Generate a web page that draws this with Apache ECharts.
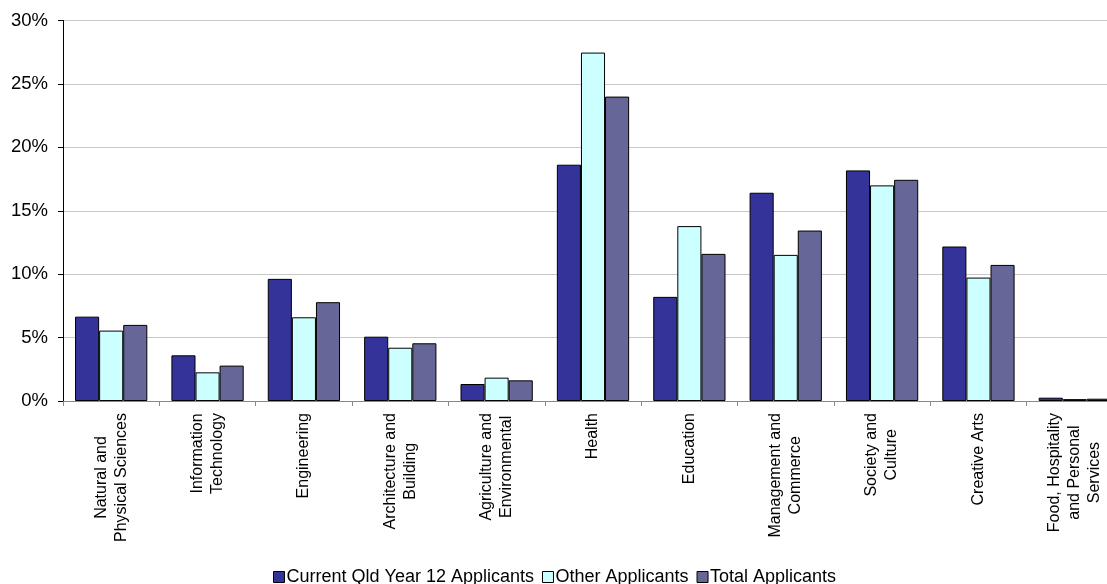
<!DOCTYPE html>
<html>
<head>
<meta charset="utf-8">
<script src="https://cdn.jsdelivr.net/npm/echarts@6/dist/echarts.min.js"></script>
<style>
  html, body { margin: 0; padding: 0; background: #fff; overflow: hidden; }
  #chart { width: 1123px; height: 584px; }
</style>
</head>
<body>
<div id="chart"></div>
<script>
// Fields of education (multi-line labels use \n)
const categories = [
  'Natural and\nPhysical Sciences',
  'Information\nTechnology',
  'Engineering',
  'Architecture and\nBuilding',
  'Agriculture and\nEnvironmental',
  'Health',
  'Education',
  'Management and\nCommerce',
  'Society and\nCulture',
  'Creative Arts',
  'Food, Hospitality\nand Personal\nServices'
];

// Share of applicants (%) by field
const currentQldYear12 = [6.65, 3.6, 9.63, 5.07, 1.34, 18.63, 8.21, 16.42, 18.18, 12.18, 0.26];
const otherApplicants  = [5.55, 2.26, 6.6, 4.2, 1.84, 27.47, 13.79, 11.52, 17.0, 9.73, 0.15];
const totalApplicants  = [6.0, 2.79, 7.79, 4.55, 1.63, 24.0, 11.6, 13.44, 17.44, 10.73, 0.18];

const seriesNames = ['Current Qld Year 12 Applicants', 'Other Applicants', 'Total Applicants'];
const yTicks = [0, 5, 10, 15, 20, 25, 30];

const FONT = '"Liberation Sans", Arial, sans-serif';
const chart = echarts.init(document.getElementById('chart'), null, { renderer: 'canvas' });

function barSeries(name, data, color) {
  return {
    name: name,
    type: 'bar',
    data: data,
    barGap: '0%',
    barCategoryGap: '25%',
    itemStyle: { color: color, borderColor: '#000', borderWidth: 1 },
    emphasis: { disabled: true },
    animation: false
  };
}

chart.setOption({
  animation: false,
  textStyle: { fontFamily: FONT, color: '#000' },
  grid: { left: 63, right: 0, top: 20.5, bottom: 183, containLabel: false },
  legend: {
    left: 268,
    top: 563,
    itemWidth: 11,
    itemHeight: 11,
    itemGap: 8,
    icon: 'rect',
    selectedMode: false,
    itemStyle: { borderColor: '#000', borderWidth: 1 },
    textStyle: { fontFamily: FONT, fontSize: 18, color: '#000', padding: [0, 0, 0, -3] },
    data: seriesNames
  },
  xAxis: {
    type: 'category',
    data: categories,
    boundaryGap: true,
    axisLine: { show: true, lineStyle: { color: '#888', width: 1 } },
    axisTick: { show: true, alignWithLabel: false, length: 5, lineStyle: { color: '#888' } },
    axisLabel: {
      interval: 0,
      rotate: 90,
      margin: 12,
      fontFamily: FONT,
      fontSize: 16,
      lineHeight: 20,
      color: '#000',
      formatter: function (v) {
        return v.split('\n').map(function (s) { return '{c|' + s + '}'; }).join('\n');
      },
      rich: { c: { align: 'center', fontFamily: FONT, fontSize: 16, lineHeight: 20, color: '#000' } }
    },
    splitLine: { show: false }
  },
  yAxis: {
    type: 'value',
    min: yTicks[0],
    max: yTicks[yTicks.length - 1],
    interval: 5,
    axisLine: { show: true, lineStyle: { color: '#000', width: 1 } },
    axisTick: { show: true, inside: false, length: 5, lineStyle: { color: '#000' } },
    axisLabel: { formatter: '{value}%', fontFamily: FONT, fontSize: 18.5, color: '#000', margin: 15 },
    splitLine: { show: true, lineStyle: { color: '#c8c8c8', width: 1 } }
  },
  series: [
    barSeries(seriesNames[0], currentQldYear12, '#333399'),
    barSeries(seriesNames[1], otherApplicants, '#CCFFFF'),
    barSeries(seriesNames[2], totalApplicants, '#666699')
  ]
});
</script>
</body>
</html>
